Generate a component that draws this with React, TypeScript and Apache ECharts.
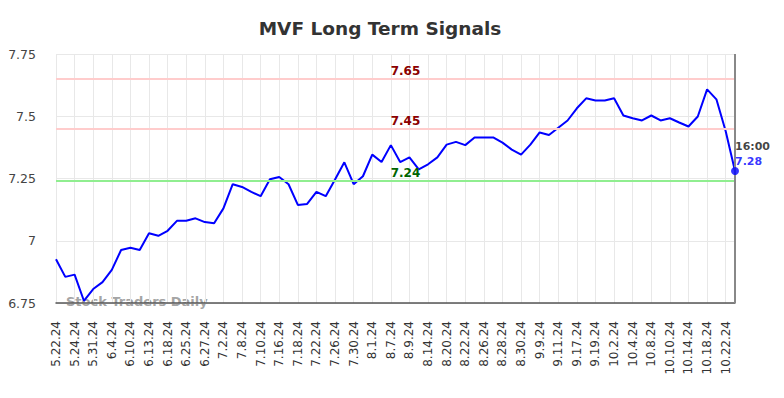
import React, { useEffect, useRef } from "react";
import * as echarts from "echarts";

const dates = [
  "5.22.24", "5.23.24", "5.24.24", "5.29.24", "5.31.24", "6.3.24", "6.4.24", "6.6.24",
  "6.10.24", "6.12.24", "6.13.24", "6.14.24", "6.18.24", "6.21.24", "6.25.24", "6.26.24",
  "6.27.24", "7.1.24", "7.2.24", "7.5.24", "7.8.24", "7.9.24", "7.10.24", "7.12.24",
  "7.16.24", "7.17.24", "7.18.24", "7.19.24", "7.22.24", "7.24.24", "7.26.24", "7.29.24",
  "7.30.24", "7.31.24", "8.1.24", "8.5.24", "8.7.24", "8.8.24", "8.9.24", "8.12.24",
  "8.14.24", "8.16.24", "8.20.24", "8.21.24", "8.22.24", "8.23.24", "8.26.24", "8.27.24",
  "8.28.24", "8.29.24", "8.30.24", "9.4.24", "9.9.24", "9.10.24", "9.11.24", "9.13.24",
  "9.17.24", "9.18.24", "9.19.24", "9.25.24", "10.2.24", "10.3.24", "10.4.24", "10.7.24",
  "10.8.24", "10.9.24", "10.10.24", "10.11.24", "10.14.24", "10.16.24", "10.18.24", "10.21.24",
  "10.22.24", "10.23.24",
];

const prices = [
  6.926, 6.855, 6.864, 6.759, 6.806, 6.834, 6.883, 6.963, 6.972, 6.963,
  7.03, 7.02, 7.04, 7.08, 7.08, 7.09, 7.075, 7.07, 7.13, 7.227,
  7.216, 7.196, 7.179, 7.247, 7.256, 7.227, 7.144, 7.148, 7.196, 7.179,
  7.246, 7.315, 7.227, 7.259, 7.346, 7.316, 7.384, 7.316, 7.335, 7.287,
  7.307, 7.335, 7.386, 7.397, 7.384, 7.415, 7.415, 7.415, 7.394, 7.366,
  7.346, 7.386, 7.435, 7.425, 7.454, 7.483, 7.532, 7.572, 7.563, 7.563,
  7.572, 7.503, 7.492, 7.483, 7.503, 7.483, 7.492, 7.475, 7.459, 7.499,
  7.608, 7.568, 7.44, 7.28,
];

const resistanceLevels = [7.65, 7.45];
const supportLevels = [7.24];
const lastTime = "16:00";

const FONT = "DejaVu Sans";

export default function App() {
  const ref = useRef<HTMLDivElement>(null);
  useEffect(() => {
    if (!ref.current) return;
    const chart = echarts.init(ref.current, undefined, { renderer: "svg" });
    const lastIdx = prices.length - 1;
    const lastVal = prices[lastIdx];
    const levelLabel = (color: string) => ({
      show: true,
      position: "insideMiddleTop",
      formatter: (p: any) => String(p.value),
      color,
      fontFamily: FONT,
      fontWeight: "bold",
      fontSize: 12,
      offset: [10, 0],
      distance: 2,
    });
    chart.setOption({
      animation: false,
      title: {
        text: "MVF Long Term Signals",
        left: 375,
        textAlign: "center",
        top: 14,
        textStyle: { fontFamily: FONT, fontWeight: "bold", fontSize: 18.5, color: "#333" },
      },
      grid: { left: 56, right: 49, top: 54, bottom: 95 },
      xAxis: {
        type: "category",
        data: dates,
        boundaryGap: false,
        axisLine: { show: true, lineStyle: { color: "#555", width: 1.5 } },
        axisTick: { show: false },
        axisLabel: {
          interval: 1,
          rotate: 90,
          margin: 18,
          fontFamily: FONT,
          fontSize: 12,
          color: "#333",
        },
        splitLine: { show: true, interval: 1, lineStyle: { color: "#e8e8e8", width: 1 } },
      },
      yAxis: {
        type: "value",
        min: 6.75,
        max: 7.75,
        interval: 0.25,
        axisLine: { show: false },
        axisTick: { show: false },
        axisLabel: { fontFamily: FONT, fontSize: 12.5, color: "#444", margin: 20 },
        splitLine: { show: true, lineStyle: { color: "#e8e8e8", width: 1 } },
      },
      graphic: [
        {
          type: "text",
          left: 66,
          top: 295,
          style: {
            text: "Stock Traders Daily",
            fontFamily: FONT,
            fontWeight: "bold",
            fontSize: 13,
            fill: "rgba(140,140,140,0.8)",
          },
        },
      ],
      series: [
        {
          type: "line",
          data: prices,
          showSymbol: false,
          lineStyle: { color: "#0000ff", width: 2 },
          itemStyle: { color: "#0000ff" },
          z: 3,
          markLine: {
            silent: true,
            symbol: "none",
            data: [
              ...resistanceLevels.map((v) => ({
                yAxis: v,
                lineStyle: { color: "#ffcccc", width: 2, type: "solid" },
                label: levelLabel("#8b0000"),
              })),
              ...supportLevels.map((v) => ({
                yAxis: v,
                lineStyle: { color: "#90ee90", width: 2, type: "solid" },
                label: levelLabel("#006400"),
              })),
              {
                xAxis: lastIdx,
                lineStyle: { color: "#888", width: 2, type: "solid" },
                label: { show: false },
              },
            ],
          },
        },
        {
          type: "scatter",
          data: [[lastIdx, lastVal]],
          symbolSize: 8,
          itemStyle: { color: "#0000ff" },
          z: 5,
          label: {
            show: true,
            position: [4, -28],
            align: "left",
            verticalAlign: "top",
            formatter: () => `{t|${lastTime}}\n{v|${lastVal}}`,
            rich: {
              t: { fontFamily: FONT, fontWeight: "bold", fontSize: 11, color: "#111", lineHeight: 15 },
              v: { fontFamily: FONT, fontWeight: "bold", fontSize: 11, color: "#0000ff", lineHeight: 15 },
            },
          },
        },
      ],
    });
    return () => chart.dispose();
  }, []);
  return <div ref={ref} style={{ width: 784, height: 398, margin: -8 }} />;
}
